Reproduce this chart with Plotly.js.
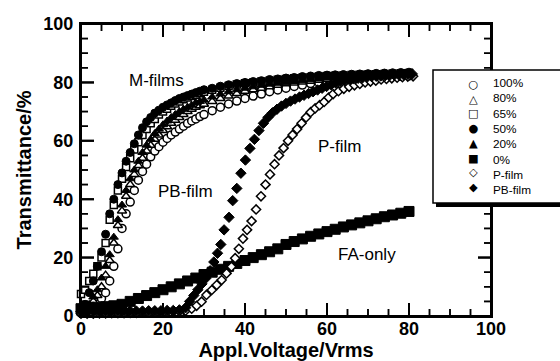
<!DOCTYPE html>
<html><head><meta charset="utf-8">
<script src="https://cdn.plot.ly/plotly-3.0.1.min.js"></script>
<style>html,body{margin:0;padding:0;background:#fff}#chart{width:560px;height:361px}
.js-plotly-plot .plotly .crisp{shape-rendering:geometricPrecision !important}</style>
</head><body><div id="chart"></div>
<script>
// Applied voltage (Vrms) grid for the M-films
const vM = [0,1,2,3,4,5,6,7,8,9,10,11,12,13,14,15,16,17,18,19,20,21,22,23,24,25,26,27,28,29,30,32,34,36,38,40,42,44,46,48,50,52,54,56,58,60,62,64,66,68,70,72,74,76,78,80];
// Transmittance (%) of M-films
const t100 = [1,1.5,2,3,4,6,8,12,17,23,30,35,39,43,46.5,49.5,52,54.5,56.5,58,59.5,60.8,62,63,64,65,66,66.8,67.5,68.3,69,70.3,71.5,72.6,73.6,74.5,75.3,76,76.8,77.4,78,78.6,79.1,79.6,80,80.4,80.7,81,81.2,81.4,81.6,81.8,81.9,82,82.1,82.2];
const t80 = [2,2.5,3,5,7,10,14,19,25,31,36,41,45,48.5,51.5,54,56.5,58.5,60.5,62,63.5,64.8,66,67,68,69,70,70.8,71.5,72,72.5,73.5,74.5,75.3,76.2,77,77.5,78,78.5,79,79.5,79.8,80.1,80.4,80.7,81,81.2,81.4,81.6,81.8,82,82.1,82.2,82.3,82.4,82.5];
const t65 = [7.5,9,12,14.5,17,20,25,33,38,43,47,51,54,57,59.5,62,64,66,67.5,69,70,71,72,72.8,73.5,74.2,74.8,75.3,75.8,76.3,76.8,77.5,78.2,78.8,79.3,79.7,80,80.3,80.6,80.9,81.2,81.4,81.6,81.8,82,82.2,82.3,82.4,82.5,82.6,82.7,82.8,82.9,83,83.1,83.2];
const t50 = [1,4,8,12,17,22,28,35,40,45,49,53,56,59,62,64.5,66.5,68,69.5,70.5,71.5,72.3,73,73.8,74.5,75,75.5,76,76.5,77,77.5,78,78.7,79.2,79.6,80,80.3,80.6,81,81.2,81.5,81.7,82,82.2,82.4,82.5,82.6,82.7,82.8,82.9,83,83.1,83.2,83.3,83.4,83.5];
const t20 = [1,2.5,4,6.5,9,13,17,21,27,33,38,43,47,50,53,56,58.5,60.5,62.5,64,65.5,66.8,68,69,70,70.8,71.5,72.2,73,73.5,74,75,76,76.8,77.5,78,78.5,79,79.4,79.7,80,80.3,80.6,80.9,81.2,81.5,81.7,81.9,82,82.1,82.3,82.4,82.5,82.6,82.8,83];
// FA-only (0%)
const vFA = [0,2,4,6,8,10,12,14,16,18,20,22,24,26,28,30,32,34,36,38,40,42,44,46,48,50,52,54,56,58,60,62,64,66,68,70,72,74,76,78,80];
const t0 = [2.5,3,3,3.2,3.5,4,5,6,7,8,9,10,11,12,13,14.2,15,16,17,18,19,20,21,22,23,24.5,25.5,26.4,27.3,28.1,28.9,29.7,30.5,31.2,31.9,32.6,33.3,34,34.6,35.2,35.8];
// P-film
const vP = [0,1.5,3,4.5,6,7.5,9,10.5,12,13.5,15,16.5,18,19.5,21,22.5,24,25.5,27,28.2,29.4,30.6,31.9,33.1,34.3,35.5,36.7,37.6,38.5,39.5,40.5,41.6,42.7,43.9,45,46.1,47.2,48.3,49.4,50.5,51.6,52.7,53.8,54.9,56,57.1,58.2,59.3,60.4,61.5,62.8,64.1,65.4,66.7,68,69.3,70.6,71.9,73.2,74.5,75.8,77.1,78.4,79.7,81];
const tP = [0.8,0.8,0.8,0.9,0.9,1,1,1,1.1,1.1,1.2,1.2,1.3,1.3,1.4,1.5,1.6,1.8,2.5,3.5,4.9,7.2,8.9,10.6,12.3,14.6,16.9,19.8,23,26.5,29.5,32.5,36.5,41,45,48.5,52,55,57.5,60,62,64,66,68,69.8,71.1,72.2,73.3,74.8,76,77,77.8,78.5,79,79.5,80,80.3,80.6,81,81.2,81.4,81.6,81.8,82,82.1];
// PB-film
const vPB = [0,1.5,3,4.5,6,7.5,9,10.5,12,13.5,15,16.5,18,19.5,21,22.5,24,25.5,26.5,27.5,28.5,29.5,30.5,31.5,32.4,33.3,34.1,34.9,36.1,37,38,39,40.1,41.2,42.3,43.4,44.5,45.6,46.7,47.8,48.9,50,51.1,52.2,53.3,54.4,55.5,56.6,57.7,58.8,59.9,61,62.1,63.2,64.3,65.4,66.5,67.6,68.7,69.8,70.9,72,73.1,74.2,75.3,76.4,77.5,78.6,79.7,80.8];
const tPB = [1.5,1.4,1.5,1.6,1.5,1.5,1.6,1.6,1.7,1.7,1.7,1.8,1.8,1.8,1.9,1.9,2.1,2.8,5,7,9,11,13,15.5,18.5,21.5,24.5,29.5,33.8,39.5,43.7,48.9,53.4,57.4,60.5,63.5,66,68,69.6,70.8,71.9,72.8,73.6,74.3,75,75.6,76.2,76.8,77.4,78,78.6,79.2,79.8,80.3,80.7,81,81.2,81.4,81.6,81.8,82,82.1,82.2,82.3,82.4,82.5,82.6,82.7,82.8,82.9];

const seriesNames = ['100%','80%','65%','50%','20%','0%','P-film','PB-film'];
const legendGlyphs = ['\u25CB','\u25B3','\u25A1','\u25CF','\u25B2','\u25A0','\u25C7','\u25C6'];
const axisRange = [0, 100];
const majorTicks = [0,20,40,60,80,100];
const minorTicks = [5,10,15,25,30,35,45,50,55,65,70,75,85,90,95];
const labels = [
  {text: 'M-films', x: 18.3, y: 80.8},
  {text: 'P-film', x: 63, y: 57.9},
  {text: 'PB-film', x: 25.5, y: 42.5},
  {text: 'FA-only', x: 69.8, y: 21}
];

const FONT = '"Liberation Sans", Arial, Helvetica, sans-serif';
const SYMFONT = '"DejaVu Sans", sans-serif';

function mk(x, y, name, symbol, fill, size, lw) {
  return {x: x, y: y, name: name, type: 'scatter', mode: 'markers', cliponaxis: false, showlegend: false,
    marker: {symbol: symbol, size: size, color: fill, line: {color: '#000', width: lw}}};
}
const traces = [
  mk(vM, t100, seriesNames[0], 'circle', '#fff', 8, 1.5),
  mk(vM, t80, seriesNames[1], 'triangle-up', '#fff', 8, 1.5),
  mk(vM, t65, seriesNames[2], 'square', '#fff', 7, 1.5),
  mk(vM, t50, seriesNames[3], 'circle', '#000', 8, 1),
  mk(vM, t20, seriesNames[4], 'triangle-up', '#000', 8, 1),
  mk(vFA, t0, seriesNames[5], 'square', '#000', 10, 1),
  mk(vP, tP, seriesNames[6], 'diamond', '#fff', 7, 1.5),
  mk(vPB, tPB, seriesNames[7], 'diamond', '#000', 8, 1)
];

const L = 81, R = 69, T = 24, B = 45, W = 560, H = 361;
const pw = W - L - R, ph = H - T - B;
function px2x(p) { return (p - L) / pw; }
function py2y(p) { return (H - B - p) / ph; }
function frac(v) { return (v - axisRange[0]) / (axisRange[1] - axisRange[0]); }

function makeAxis(titleText, standoff, labelStandoff) {
  return {
    range: axisRange.slice(), tickmode: 'linear', tick0: 0, dtick: 20,
    ticks: 'inside', ticklen: 13, tickwidth: 2, tickcolor: '#000',
    showline: true, linewidth: 2, linecolor: '#000', mirror: 'ticks',
    showgrid: false, zeroline: false, fixedrange: true,
    ticklabelstandoff: labelStandoff,
    tickfont: {family: FONT, size: 18, color: '#000', weight: 'bold'},
    minor: {tickmode: 'linear', tick0: 0, dtick: 5, ticks: 'inside', ticklen: 7, tickwidth: 1.5, tickcolor: '#000', showgrid: false},
    title: {text: titleText, font: {family: FONT, size: 20, color: '#000', weight: 'bold'}, standoff: standoff}
  };
}

const K = '#000';
// plot frame (white-filled box behind the traces)
const shapes = [{type: 'rect', xref: 'paper', yref: 'paper', layer: 'below', x0: 0, x1: 1, y0: 0, y1: 1,
  fillcolor: '#fff', line: {color: K, width: 2}}];
// inside tick marks on all four sides, from the tick arrays
function box(x0, x1, y0, y1) {
  shapes.push({type: 'rect', xref: 'paper', yref: 'paper', layer: 'above', x0: x0, x1: x1, y0: y0, y1: y1, fillcolor: K, line: {width: 0}});
}
function tickShapes(vals, len, w) {
  const hx = w / 2 / pw, hy = w / 2 / ph, lx = len / pw, ly = len / ph;
  vals.forEach(function (v) {
    const f = frac(v);
    box(f - hx, f + hx, 0, ly);
    box(f - hx, f + hx, 1 - ly, 1);
    box(0, lx, f - hy, f + hy);
    box(1 - lx, 1, f - hy, f + hy);
  });
}
tickShapes(majorTicks, 13, 2);
tickShapes(minorTicks, 7, 1.5);

// legend box with drop shadow
const legTop = 70, legBot = 203, legLeft = 433, rowTop = 85, rowGap = 14.7;
shapes.push({type: 'rect', xref: 'paper', yref: 'paper', layer: 'above',
  x0: px2x(legLeft + 3), x1: px2x(620), y0: py2y(legBot + 4), y1: py2y(legTop + 4), fillcolor: K, line: {width: 0}});
shapes.push({type: 'rect', xref: 'paper', yref: 'paper', layer: 'above',
  x0: px2x(legLeft), x1: px2x(620), y0: py2y(legBot), y1: py2y(legTop), fillcolor: '#fff', line: {color: K, width: 1.5}});

const annotations = labels.map(function (a) {
  return {text: a.text, x: a.x, y: a.y, xref: 'x', yref: 'y', showarrow: false, font: {family: FONT, size: 17, color: '#000'}};
});
const legMid = py2y(rowTop + rowGap * (seriesNames.length - 1) / 2);
const legFont = rowGap / 1.3;
annotations.push({text: legendGlyphs.join('<br>'), x: px2x(473), y: legMid, xref: 'paper', yref: 'paper',
  xanchor: 'center', yanchor: 'middle', align: 'center', showarrow: false,
  font: {family: SYMFONT, size: legFont, color: '#000'}});
annotations.push({text: seriesNames.join('<br>'), x: px2x(491), y: legMid, xref: 'paper', yref: 'paper',
  xanchor: 'left', yanchor: 'middle', align: 'left', showarrow: false,
  font: {family: FONT, size: legFont + 0.5, color: '#000'}});

const layout = {
  width: W, height: H,
  margin: {l: L, r: R, t: T, b: B, autoexpand: false},
  paper_bgcolor: '#fff', plot_bgcolor: '#fff',
  font: {family: FONT, color: '#000'},
  showlegend: false,
  xaxis: makeAxis('Appl.Voltage/Vrms', 2, -5),
  yaxis: makeAxis('Transmittance/%', 6, 2),
  shapes: shapes,
  annotations: annotations
};

Plotly.newPlot('chart', traces, layout, {staticPlot: true, displayModeBar: false});
</script>
</body></html>
